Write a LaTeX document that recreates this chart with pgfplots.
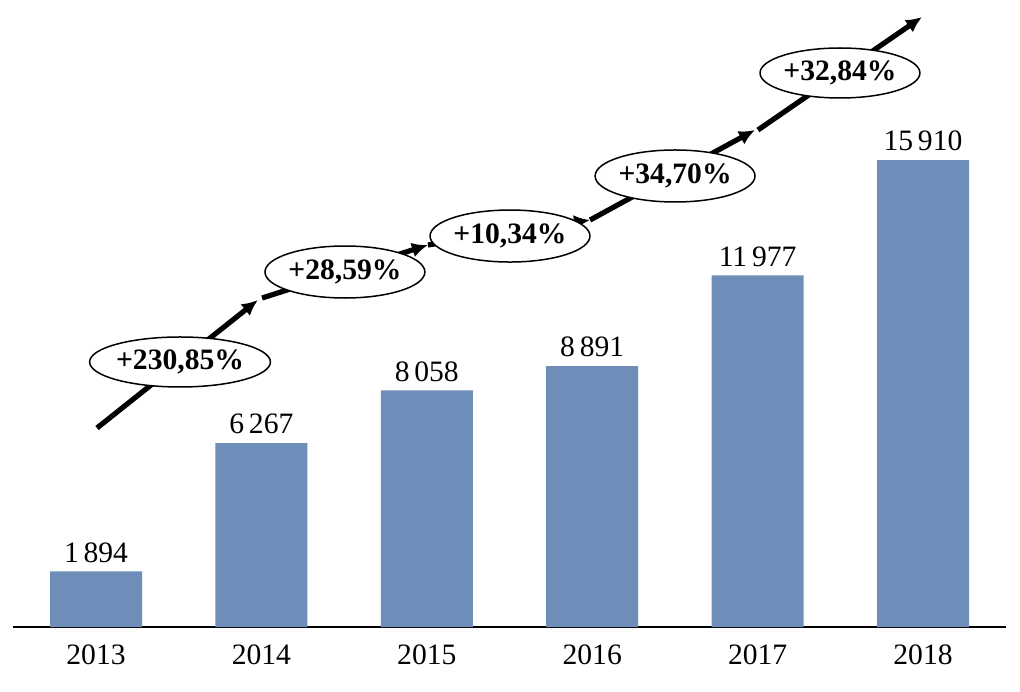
\documentclass[border=0pt]{standalone}
\usepackage{fontspec}
\setmainfont{Liberation Serif}
\usepackage{pgfplots}
\pgfplotsset{compat=1.18}
\usetikzlibrary{arrows.meta,shapes.geometric}
\definecolor{barblue}{RGB}{111,141,185}
\newcommand{\fs}{\fontsize{14.8}{17}\selectfont}
\begin{document}
\begin{tikzpicture}
\begin{axis}[
  scale only axis,
  width=496.2pt, height=313.5pt,
  xmin=-0.5, xmax=5.5, ymin=0, ymax=21362,
  axis x line*=bottom, axis y line=none,
  axis line style={line width=0.6pt,-},
  xtick=data,
  xticklabels={2013,2014,2015,2016,2017,2018},
  major tick length=0pt,
  xticklabel style={font=\fs, yshift=-5.5pt},
  /pgf/number format/assume math mode=true,
  ytick=\empty,
  clip=false,
  point meta=explicit symbolic,
  nodes near coords,
  every node near coord/.append style={font=\fs, anchor=south, inner sep=4.2pt},
]
\addplot[ybar, bar width=46pt, fill=barblue, draw=none] coordinates {
  (0,1894) [1\kern0.16em894]
  (1,6267) [6\kern0.16em267]
  (2,8058) [8\kern0.16em058]
  (3,8891) [8\kern0.16em891]
  (4,11977) [11\kern0.16em977]
  (5,15910) [15\kern0.16em910]
};
\tikzset{growarr/.style={line width=2.6pt, -{Latex[length=8pt,width=7.5pt]}},
  lab/.style={ellipse, draw=black, line width=0.75pt, fill=white, font=\fs\bfseries, inner sep=0pt}}
\draw[growarr] (axis cs:0.006,6780) -- (axis cs:0.979,11141);
\draw[growarr] (axis cs:1.004,11209) -- (axis cs:2.007,13015);
\draw[growarr] (axis cs:2.007,13015) -- (axis cs:2.987,13866);
\draw[growarr] (axis cs:2.987,13866) -- (axis cs:3.984,16933);
\draw[growarr] (axis cs:4.002,16933) -- (axis cs:4.994,20783);
\node[lab, minimum width=88pt, minimum height=25pt] at (axis cs:0.508,9029) {+230,85\%};
\node[lab, minimum width=78pt, minimum height=26pt] at (axis cs:1.505,12095) {+28,59\%};
\node[lab, minimum width=77pt, minimum height=26pt] at (axis cs:2.503,13321) {+10,34\%};
\node[lab, minimum width=78pt, minimum height=26pt] at (axis cs:3.501,15366) {+34,70\%};
\node[lab, minimum width=78pt, minimum height=25pt] at (axis cs:4.498,18875) {+32,84\%};
\end{axis}
\pgfresetboundingbox
\path (-6.65pt,-32pt) rectangle (503.35pt,313.5pt);
\end{tikzpicture}
\end{document}
